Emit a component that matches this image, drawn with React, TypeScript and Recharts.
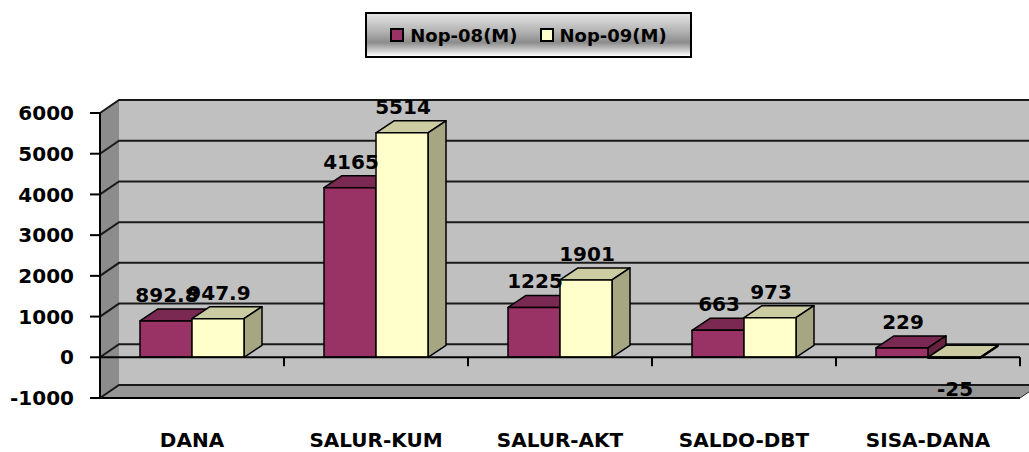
import {
  BarChart,
  Bar,
  XAxis,
  YAxis,
  CartesianGrid,
  Legend,
  LabelList,
  ReferenceLine,
} from 'recharts';

const categories = ['DANA', 'SALUR-KUM', 'SALUR-AKT', 'SALDO-DBT', 'SISA-DANA'];
const nop08 = [892.8, 4165, 1225, 663, 229];
const nop09 = [947.9, 5514, 1901, 973, -25];
const yTicks = [-1000, 0, 1000, 2000, 3000, 4000, 5000, 6000];

const data = categories.map((name, i) => ({
  name,
  nop08: nop08[i],
  nop09: nop09[i],
}));

const FONT = '"DejaVu Sans", Verdana, sans-serif';
// depth of the boxes and of the walls (fake 3d)
const DX = 18;
const DY = -12;
const WX = 19;
const WY = -13;

const MAROON = { front: '#993366', top: '#7a2952', side: '#66223f' };
const CREAM = { front: '#ffffcc', top: '#cccca2', side: '#a6a682' };

function Box3D(props: any) {
  const { x, y, width, height, colors } = props;
  const y0 = Math.min(y, y + height);
  const y1 = Math.max(y, y + height);
  const x1 = x + width;
  return (
    <g stroke="#000" strokeWidth={1.5} strokeLinejoin="round">
      <polygon
        points={`${x},${y0} ${x + DX},${y0 + DY} ${x1 + DX},${y0 + DY} ${x1},${y0}`}
        fill={colors.top}
      />
      <polygon
        points={`${x1},${y0} ${x1 + DX},${y0 + DY} ${x1 + DX},${y1 + DY} ${x1},${y1}`}
        fill={colors.side}
      />
      <rect x={x} y={y0} width={width} height={Math.max(y1 - y0, 0.5)} fill={colors.front} />
    </g>
  );
}

// grid lines on the back wall; the walls themselves go in with the first line
function WallLine(p: any) {
  const { x, y, width, height, x1, y1, x2, index } = p;
  const bottom = y + height;
  return (
    <g key={`wall-${index}`}>
      {index === 0 && (
        <g>
          <rect x={x + WX} y={y + WY} width={width} height={height} fill="#c0c0c0" />
          <polygon
            points={`${x},${y} ${x + WX},${y + WY} ${x + WX},${bottom + WY} ${x},${bottom}`}
            fill="#8c8c8c"
          />
          <polygon
            points={`${x},${bottom} ${x + WX},${bottom + WY} ${x + width + WX},${bottom + WY} ${x + width},${bottom}`}
            fill="#969696"
            stroke="#222"
            strokeWidth={1}
          />
          <line x1={x - 10} y1={bottom} x2={x + width} y2={bottom} stroke="#000" strokeWidth={2} />
        </g>
      )}
      <polyline
        points={`${x1},${y1} ${x1 + WX},${y1 + WY} ${x2 + WX},${y1 + WY}`}
        fill="none"
        stroke="#1a1a1a"
        strokeWidth={2}
      />
    </g>
  );
}

function ZeroLine(p: any) {
  const { x1, y1, x2 } = p;
  const step = (x2 - x1) / categories.length;
  return (
    <g stroke="#000" strokeWidth={2}>
      <line x1={x1} y1={y1} x2={x2} y2={y1} />
      {categories.map((c, i) => (
        <line key={c} x1={x1 + step * (i + 1)} y1={y1} x2={x1 + step * (i + 1)} y2={y1 + 9} />
      ))}
    </g>
  );
}

function ValueLabel(props: any) {
  const { x, y, width, height, value } = props;
  const top = Math.min(y, y + height);
  const bottom = Math.max(y, y + height);
  const ty = value < 0 ? bottom + 38 : top - 19;
  return (
    <text
      x={x + width / 2 + 1}
      y={ty}
      textAnchor="middle"
      fontFamily={FONT}
      fontWeight="bold"
      fontSize={20}
      fill="#000"
    >
      {value}
    </text>
  );
}

function CatTick({ x, y, payload }: any) {
  return (
    <text x={x} y={y} dy={49} textAnchor="middle" fontFamily={FONT} fontWeight="bold" fontSize={20} fill="#000">
      {payload.value}
    </text>
  );
}

function LegendBox({ payload }: any) {
  return (
    <div
      style={{
        boxSizing: 'border-box',
        width: 327,
        height: 46,
        border: '2px solid #000',
        background: 'linear-gradient(to bottom, #e4e4e4 0%, #b4b4b4 40%, #8c8c8c 68%, #d0d0d0 88%, #ffffff 100%)',
        display: 'flex',
        alignItems: 'center',
        justifyContent: 'center',
        gap: 22,
        fontFamily: FONT,
        fontWeight: 'bold',
        fontSize: 18,
        color: '#000',
      }}
    >
      {(payload || []).map((item: any) => (
        <span key={item.value} style={{ display: 'flex', alignItems: 'center' }}>
          <span
            style={{
              display: 'inline-block',
              boxSizing: 'border-box',
              width: 14,
              height: 14,
              border: '2px solid #000',
              background: item.color,
              marginRight: 6,
            }}
          />
          {item.value}
        </span>
      ))}
    </div>
  );
}

export default function App() {
  return (
    <div style={{ position: 'absolute', left: 0, top: 0, width: 1029, height: 452, background: '#fff' }}>
      <BarChart
        width={1029}
        height={452}
        data={data}
        margin={{ top: 113, right: 9, bottom: 0, left: 0 }}
        barGap={0}
        barSize={52}
      >
        <CartesianGrid vertical={false} horizontal={WallLine} />
        <XAxis
          dataKey="name"
          axisLine={false}
          tickLine={false}
          tickSize={0}
          tickMargin={0}
          height={54}
          tick={<CatTick />}
          interval={0}
        />
        <YAxis
          width={100}
          domain={[-1000, 6000]}
          ticks={yTicks}
          interval={0}
          axisLine={{ stroke: '#000', strokeWidth: 2 }}
          tickLine={{ stroke: '#000', strokeWidth: 2 }}
          tickSize={10}
          tickMargin={16}
          tick={{ fontFamily: FONT, fontWeight: 'bold', fontSize: 20, fill: '#000' }}
        />
        <Legend
          verticalAlign="middle"
          align="center"
          layout="horizontal"
          wrapperStyle={{ top: 12, left: 365, width: 327, height: 46 }}
          content={<LegendBox />}
        />
        <Bar
          dataKey="nop08"
          name="Nop-08(M)"
          fill={MAROON.front}
          isAnimationActive={false}
          shape={(p: any) => <Box3D {...p} colors={MAROON} />}
        >
          <LabelList dataKey="nop08" content={<ValueLabel />} />
        </Bar>
        <Bar
          dataKey="nop09"
          name="Nop-09(M)"
          fill={CREAM.front}
          isAnimationActive={false}
          shape={(p: any) => <Box3D {...p} colors={CREAM} />}
        >
          <LabelList dataKey="nop09" content={<ValueLabel />} />
        </Bar>
        <ReferenceLine y={0} shape={<ZeroLine />} />
      </BarChart>
    </div>
  );
}
